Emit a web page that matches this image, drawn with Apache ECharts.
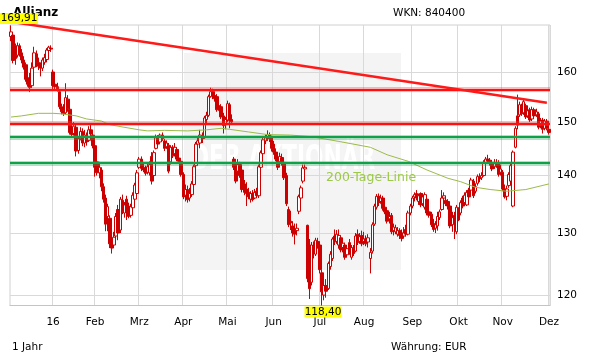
<!DOCTYPE html>
<html><head><meta charset="utf-8">
<script src="https://cdn.jsdelivr.net/npm/echarts@6/dist/echarts.min.js"></script>
<style>html,body{margin:0;padding:0;background:#fff}#c{width:611px;height:364px}</style>
</head><body><div id="c"></div>
<script>
// Daily candles, Dec 2015 - Dec 2016 (trading days)
const opens = [
167.5,167.8,165.5,163.5,165.5,164,162.5,161.5,158.8,158.5,
157.2,161,163.8,162,161.5,160.8,162,162.6,164.5,165,
160,157.5,157,156,153,152.2,151.8,154.5,152.5,148.2,
147.8,149,144.6,146.8,148.2,146,147.3,146.5,148.5,147.5,
145.5,142.5,140.5,141,138,136,132.8,132.5,128.5,128,
129.5,134,130.5,135.6,133.4,135.8,134.6,133,134.3,135.8,
136.8,141.5,143,141.5,141.2,140.6,140.5,143.5,140,145,
147,146.2,147.5,146.4,145.3,145.6,142.5,145.2,144,144.8,
143.2,142.6,140.2,136.5,137.5,136,136.6,138.4,141.8,145.8,
146,147.2,147,150.5,151.3,155,156,155.2,155,153.2,
153,151.2,149.5,150.4,153.4,150.5,143,142,140.8,142,
141,138.5,137.6,137,135.8,136.8,136,137.2,136.4,141.5,
144,146.4,147,147.6,147,145.8,144.3,143.2,142.5,143.3,
142.4,140,134,132,131.2,130.6,130.4,133.7,136,139,
141.2,131.3,128,122,127.8,126.5,128.6,128,123.5,120,
121.5,121,124.5,125.8,129.5,128.6,128,129.2,127.6,128,
126.4,128.4,126,127.4,127,129.8,128.6,129.6,128.6,129,
128.5,125.8,127,131.5,134.4,136.3,135.4,136,134.4,133.8,
132.4,133,130.4,130.2,129.8,130.4,130,129.5,130.6,129.8,
133.4,134.6,136.2,136.8,135.4,136.8,135,134.4,135.8,133.6,
133.2,131.6,130.8,131.2,132.6,134,136,135.6,135.4,134.6,
131.4,133,130.2,134,133.4,136,135.2,134.8,137.4,137.4,
139,137.2,138.6,139.8,139.6,140,142.2,143,142.8,142.4,
141.6,142.4,142.4,140.6,140.6,137.6,136.3,138.2,139,134.6,
145.2,151.2,151.4,153,151.8,153.2,151.2,152.4,150.6,152.4,
151.4,151.6,149.4,150.4,148.8,150.2,148.6
];
const closes = [
168.5,162.4,162.8,165.5,163.8,162.5,161,158.5,157.5,156.8,
160.8,164,162,161.2,160.8,162.5,163,164.6,165.2,164.8,
157.2,157,156.5,153,152,151.6,154.8,152.6,148,147.6,
149.2,144.5,146.8,148.2,146,147.5,146.2,148.5,147.7,145.5,
141.5,140.5,141.5,138,135.8,131.5,134.5,128.2,127.5,129.3,
132.8,130,135.8,133.6,134.8,134.6,132.8,134.5,136.5,138.3,
140.5,143,141.3,141,140.4,141.6,142,139,144.2,147,
145.8,147.5,146.8,145,146,140.8,145.2,143.6,145.2,143,
142.6,140.2,136.2,137.5,135.7,136.8,138.5,141.6,145.8,146.4,
147.5,146.8,150.8,151.3,155,156,155.2,154.6,152.4,152.8,
151,149.3,150.5,153.6,150.3,150,141.5,139,142,140,
137.5,137,136.8,136.2,136.8,135.7,137,136.4,141.6,144.2,
146.6,147,147.6,146.8,145,144.3,143,141.5,143.5,142.4,
139.6,135,131.4,131.7,130,129.8,130.8,136.3,137.8,141.4,
141.5,122.6,121,128,127.2,128.8,128,124,120.5,121.5,
120.6,125,126.5,129,128.5,129.8,129.6,127.2,128.3,126,
127.4,126.8,127.6,126.6,129.5,128.4,129.4,128.2,129,128.2,
129.2,126.8,131.4,134.6,136.3,135.2,136,134.2,133.6,132,
132.8,130.2,131,130.9,130.4,129.6,129.1,130,129.8,133.4,
134.6,136,136.6,136,136.4,134.8,136.2,136.6,133.4,133,
131.4,130.6,131.4,132.8,133.6,136,136.4,135,134.6,131.2,
132.6,132.6,134.4,132.2,135.2,134.6,136.5,137,136.2,139.2,
136.4,138,139.8,139.4,140,142.4,143,142.6,142.2,141.2,
142.4,142,140.2,141.2,137.6,136.2,137.6,140.2,141.8,144.3,
148.8,149.4,153.4,151.6,154,151,152.2,150.4,152.4,151.2,
152,149,150.2,148.6,150.2,148.8,148
];
const lows = [
166.5,161.8,161.5,163,163.2,161.8,160.5,158,157,155.9,
156.8,160.5,161,160.4,159.1,160.2,161.5,162,163.8,164.2,
156.5,156.3,156,152.5,151.5,151.2,151.5,152,147.6,147.2,
147.4,143.5,144,146.5,145.4,145.2,145.5,146.2,147,145,
139.8,140,139.5,137.2,135.2,130.3,130.3,127.5,126.6,127.8,
129,128.8,130,133.2,132.6,132.2,132.5,132.6,134,135.4,
136.4,141.2,140.8,140.6,140,140.2,140,138.4,139.5,144.8,
145.2,145.8,146.4,144.5,144.9,140.4,142,143.2,143.5,142.6,
142.2,139.8,135.8,135.4,135.2,135.4,136.2,138,141.5,145.2,
145,146,146.8,149.8,151,154.8,154.5,154,152,152.2,
150.6,147.8,148.6,150,148.8,149.6,141,138.6,140.4,139.6,
137,136.5,134.6,135.8,135.2,135.4,135.8,136,136,141.2,
143.6,145.8,146.4,146.2,144.4,143.8,142.6,141,142,141.8,
139.2,134.6,131,130.5,129.4,128.1,129.6,133.2,135.6,138.6,
140.6,122,119.4,121.5,125.8,126.2,127.4,123.4,118.4,119.2,
119.6,120.8,124,125.4,128,128.2,127.4,126.8,126.8,125.6,
126,126.4,125.6,126.2,126.8,128,128.2,127.8,128,127.8,
127.6,123.4,126.6,131.2,134,134.6,135,133.8,133.2,131.6,
131.6,129.8,129.6,129.8,129.4,129,128.6,129.2,129.4,129.6,
133,134.2,135.4,135.6,134.8,134.4,134.6,134,133,132.6,
131,130.2,130,130.4,132.2,133.8,135.4,134.6,134,130.8,
130.2,129,129.8,132,133,134.2,134.8,134.6,135.8,137,
136,136.8,138.2,138.8,139.2,139.8,141.6,142.2,141.8,140.8,
141.2,141.4,139.8,140,137.2,135.9,135.6,137.8,138.8,134.4,
145,148.6,151,151.2,151.4,150.6,150.8,150,150.2,150.8,
151,148.6,148.8,147.8,148.4,148.4,147.6
];
const highs = [
169.91,168.2,166,166.2,166,164.8,163.3,162,160.5,159.8,
162,165.3,164.5,163,162,163,163.8,165,165.5,165.6,
160.5,158.4,157.8,156.4,153.6,153.5,157.7,155.3,153,149.5,
150,149.5,147.2,149,148.8,148.5,148,149.2,149.6,148.2,
146,143.2,142.5,141.5,138.6,136.6,135,133,130,130.2,
133.4,134.8,136.2,136.6,135.3,136.4,135.2,135,137,138.7,
141,143.4,143.5,142.5,141.8,142.3,142.6,144.3,144.6,147.6,
147.5,147.8,148,146.8,146.5,146,145.6,145.6,146,145.2,
144,143,140.6,138.4,138.2,137.8,139,142,146.2,147,
148.5,148,151.2,152,155.4,156.8,156.6,156,155.5,154,
153.5,151.8,151,154.2,153.8,151.5,143.4,142.6,143,142.5,
141.5,139.2,138.8,137.8,137.2,137.4,137.6,137.8,142,144.6,
147,147.6,148.4,148,147.4,146.4,145,143.8,144.2,144,
143,140.5,134.5,133.8,132,131.6,131.6,136.6,138.2,142,
142,131.4,129,128.5,128.6,129.2,129.2,128.5,124,122,
122.5,125.3,127,129.3,130.6,130.5,130.6,129.6,128.8,128.4,
128,129,128,128,130,130.6,130,130.4,130.2,129.6,
129.8,127.5,131.8,135,136.7,136.8,136.6,136.4,135.2,134.2,
133.6,133.4,131.6,131.4,131,130.8,130.6,131,131.4,133.8,
135,136.4,137,137.4,136.8,137,136.8,137,136.2,134.4,
133.6,132.4,132,133.6,134,137.4,137,136.4,135.8,135,
133.6,133.6,134.8,134.4,135.6,136.4,137,137.4,137.8,139.6,
139.4,138.6,140.2,140.4,140.6,142.8,143.4,143.8,143.2,142.8,
143,143,142.8,142,141,138.4,138.2,140.6,142.2,144.6,
149.2,155.4,154,153.6,154.7,153.6,152.8,152.8,153,152.8,
152.6,152,150.8,150.8,150.6,150.6,148.8
];
const monthLabels = ['16','Feb','Mrz','Apr','Mai','Jun','Jul','Aug','Sep','Okt','Nov','Dez'];
const monthStart  = [20, 40, 61, 82, 103, 125, 147, 168, 191, 213, 234, 256];
const ma200 = [[0,150.97],[5,151.2],[13,151.7],[20,151.7],[24,151.6],[31,151.2],[36,150.6],[43,150.2],[47,149.5],[51,149.2],[61,148.5],[65,148.3],[73,148.4],[84,148.3],[93,148.5],[100,148.8],[104,148.6],[113,148.1],[122,147.6],[133,147.5],[143,147.2],[156,146.3],[171,145.2],[179,143.8],[189,142.6],[198,141.0],[208,139.5],[214,138.9],[221,137.9],[228,137.5],[236,137.2],[245,137.5],[256,138.5]];
const yTicks = [120, 130, 140, 150, 160];
const resistance = [156.4, 149.7];
const support = [147.1, 142.3];
const trendLine = [[3, 170.5], [255, 153.8]];
const highPoint = [0, 169.91, '169,91'];
const lowPoint = [148, 118.4, '118,40'];

const FONT = '"DejaVu Sans", Verdana, sans-serif';
const cats = opens.map((_, i) => String(i));
const candles = opens.map((o, i) => [o, closes[i], lows[i], highs[i]]);

const hLines = [];
resistance.forEach(v => {
  hLines.push({yAxis: v, lineStyle: {color: 'rgba(255,60,60,0.35)', width: 5, type: 'solid'}});
  hLines.push({yAxis: v, lineStyle: {color: '#ff1010', width: 2, type: 'solid'}});
});
support.forEach(v => {
  hLines.push({yAxis: v, lineStyle: {color: 'rgba(30,170,90,0.35)', width: 5, type: 'solid'}});
  hLines.push({yAxis: v, lineStyle: {color: '#10a048', width: 2, type: 'solid'}});
});

const isMonth = i => monthStart.indexOf(i) >= 0;

const chart = echarts.init(document.getElementById('c'), null, {renderer: 'canvas'});
chart.setOption({
  animation: false,
  backgroundColor: '#ffffff',
  grid: {left: 10, right: 61, top: 25, height: 280.5, show: true, borderColor: '#d0d0d0', borderWidth: 1, backgroundColor: 'transparent'},
  graphic: [
    {type: 'rect', z: -10, shape: {x: 184, y: 53, width: 217, height: 217}, style: {fill: '#f4f4f4'}},
    {type: 'text', z: -9, x: 191, y: 160, scaleX: 0.66, style: {text: 'DER AKTIONÄR', font: 'bold 33px ' + FONT, fill: '#ffffff', verticalAlign: 'middle'}},
    {type: 'text', x: 13, y: 12.5, style: {text: 'Allianz', font: 'bold 12px ' + FONT, fill: '#000', verticalAlign: 'middle'}},
    {type: 'text', x: 393, y: 13.5, style: {text: 'WKN: 840400', font: '10.5px ' + FONT, fill: '#000', verticalAlign: 'middle'}},
    {type: 'text', x: 12, y: 347, style: {text: '1 Jahr', font: '10.5px ' + FONT, fill: '#000', verticalAlign: 'middle'}},
    {type: 'text', x: 391, y: 347, style: {text: 'Währung: EUR', font: '10.5px ' + FONT, fill: '#000', verticalAlign: 'middle'}},
    {type: 'text', x: 326, y: 177.5, z: 50, style: {text: '200-Tage-Linie', font: '12.5px ' + FONT, fill: '#9dc84a', verticalAlign: 'middle'}}
  ],
  xAxis: {
    type: 'category', data: cats, boundaryGap: true,
    axisLine: {show: true, lineStyle: {color: '#c4c4c4'}},
    axisTick: {show: false},
    axisLabel: {
      interval: (i) => isMonth(i),
      formatter: (v) => monthLabels[monthStart.indexOf(Number(v))] || '',
      color: '#000', fontSize: 10.5, fontFamily: FONT, margin: 11
    },
    splitLine: {show: true, interval: (i) => isMonth(i), lineStyle: {color: '#d9d9d9', width: 1}}
  },
  yAxis: {
    type: 'log', logBase: 10, min: 118.4, max: 170, position: 'right',
    axisLine: {show: false},
    axisTick: {show: false, customValues: yTicks},
    axisLabel: {customValues: yTicks, formatter: (v) => String(Math.round(v)), color: '#000', fontSize: 10.5, fontFamily: FONT, margin: 7},
    splitLine: {show: true, lineStyle: {color: '#d9d9d9', width: 1}},
    minorSplitLine: {show: false}
  },
  series: [
    {
      type: 'candlestick', data: candles, barWidth: 3, z: 3,
      itemStyle: {color: '#ffffff', color0: '#cc0000', borderColor: '#cc0000', borderColor0: '#cc0000', borderWidth: 1},
      markLine: {silent: true, symbol: ['none', 'none'], label: {show: false}, animation: false, z: 5, data: hLines},
      markPoint: {
        silent: true, animation: false, z: 10,
        data: [
          {coord: [String(highPoint[0]), highPoint[1]], symbol: 'rect', symbolSize: [38, 11], symbolOffset: [8, -7],
           itemStyle: {color: '#ffff00'}, label: {show: true, position: 'inside', formatter: highPoint[2], color: '#000', fontSize: 10.5, fontFamily: FONT}},
          {coord: [String(lowPoint[0]), lowPoint[1]], symbol: 'rect', symbolSize: [37, 11], symbolOffset: [1, 6.5],
           itemStyle: {color: '#ffff00'}, label: {show: true, position: 'inside', formatter: lowPoint[2], color: '#000', fontSize: 10.5, fontFamily: FONT}}
        ]
      }
    },
    {
      type: 'line', data: ma200, showSymbol: false, symbol: 'none', smooth: false, z: 4,
      lineStyle: {color: '#9cbb4a', width: 1}
    },
    {
      type: 'line', data: trendLine, showSymbol: false, symbol: 'none', clip: false, z: 6, silent: true,
      lineStyle: {color: '#ff1a1a', width: 2.5}
    }
  ]
});
</script></body></html>
